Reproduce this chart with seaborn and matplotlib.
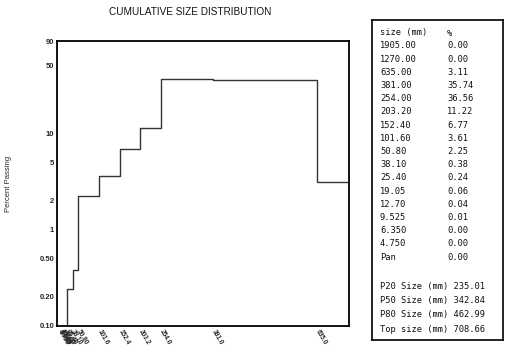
import matplotlib
matplotlib.use("Agg")
import matplotlib.pyplot as plt
import seaborn as sns
import pandas as pd

# screen sizes (mm) and % retained, ascending
sizes = [4.75, 6.35, 9.525, 12.7, 19.05, 25.4, 38.1, 50.8, 101.6, 152.4, 203.2, 254.0, 381.0, 635.0, 1270.0, 1905.0]
pct = [0.00, 0.00, 0.01, 0.04, 0.06, 0.24, 0.38, 2.25, 3.61, 6.77, 11.22, 36.56, 35.74, 3.11, 0.00, 0.00]

x_ticks = [4.75, 6.35, 9.525, 12.7, 19.05, 25.4, 38.1, 50.8, 101.6, 152.4, 203.2, 254.0, 381.0, 635.0]
x_labels = ["4.750", "6.350", "9.525", "12.70", "19.05", "25.40", "38.10", "50.80",
            "101.6", "152.4", "203.2", "254.0", "381.0", "635.0"]
y_ticks = [0.1, 0.2, 0.5, 1, 2, 5, 10, 50, 90]
y_labels = ["0.10", "0.20", "0.50", "1", "2", "5", "10", "50", "90"]

# table on the right
table_sizes = ["1905.00", "1270.00", "635.00", "381.00", "254.00", "203.20", "152.40", "101.60",
               "50.80", "38.10", "25.40", "19.05", "12.70", "9.525", "6.350", "4.750", "Pan"]
table_pct = ["0.00", "0.00", "3.11", "35.74", "36.56", "11.22", "6.77", "3.61",
             "2.25", "0.38", "0.24", "0.06", "0.04", "0.01", "0.00", "0.00", "0.00"]
stat_names = ["P20 Size (mm)", "P50 Size (mm)", "P80 Size (mm)", "Top size (mm)"]
stat_values = ["235.01", "342.84", "462.99", "708.66"]

sns.set_style("white")
plt.rcParams['font.family'] = ['Liberation Sans', 'DejaVu Sans']

df = pd.DataFrame({"size": sizes, "pct": pct})

fig = plt.figure(figsize=(5.06, 3.45), dpi=100)
ax = fig.add_axes([57 / 506, 1 - 326 / 345, (349 - 57) / 506, (326 - 41) / 345])

sns.lineplot(data=df, x="size", y="pct", ax=ax, drawstyle="steps-post",
             color="#333333", linewidth=1.0)
ax.set_yscale("log")
ax.set_xlim(0, 712)
ax.set_ylim(0.1, 90)

ax.set_yticks(y_ticks)
ax.set_yticklabels(y_labels)
ax.minorticks_off()
ax.set_xticks(x_ticks)
ax.set_xticklabels(x_labels, rotation=-60, rotation_mode="anchor", ha="left", va="center")
ax.tick_params(axis="both", direction="in", length=2, width=0.8, pad=2)
ax.tick_params(axis="y", labelsize=5.5)
ax.tick_params(axis="x", labelsize=4.7, pad=3)
for lab in ax.get_xticklabels() + ax.get_yticklabels():
    lab.set_fontweight("bold")

for s in ax.spines.values():
    s.set_color("black")
    s.set_linewidth(1.3)

ax.set_xlabel("")
ax.set_ylabel("Percent Passing", fontsize=5.5, labelpad=20)
fig.text(190 / 506, 1 - 12 / 345, "CUMULATIVE SIZE DISTRIBUTION", fontsize=7.2,
         ha="center", va="center", color="#111111")

# table panel
tax = fig.add_axes([372 / 506, 1 - 340 / 345, (503 - 372) / 506, (340 - 20) / 345])
tax.set_xticks([])
tax.set_yticks([])
for s in tax.spines.values():
    s.set_color("black")
    s.set_linewidth(1.2)

mono = dict(family="DejaVu Sans Mono", fontsize=6.3, color="#111111", va="center", ha="left",
            transform=fig.transFigure)
x1 = 380 / 506
x2 = 447 / 506
fig.text(x1, 1 - 33 / 345, "size (mm)", **mono)
fig.text(x2, 1 - 33 / 345, "%", **mono)
for i, (a, b) in enumerate(zip(table_sizes, table_pct)):
    y = 1 - (46 + i * 13.2) / 345
    fig.text(x1, y, a, **mono)
    fig.text(x2, y, b, **mono)
for i, (a, b) in enumerate(zip(stat_names, stat_values)):
    y = 1 - (287 + i * 14) / 345
    fig.text(x1, y, a + " " + b, **mono)

fig.savefig("out.png", dpi=100)
